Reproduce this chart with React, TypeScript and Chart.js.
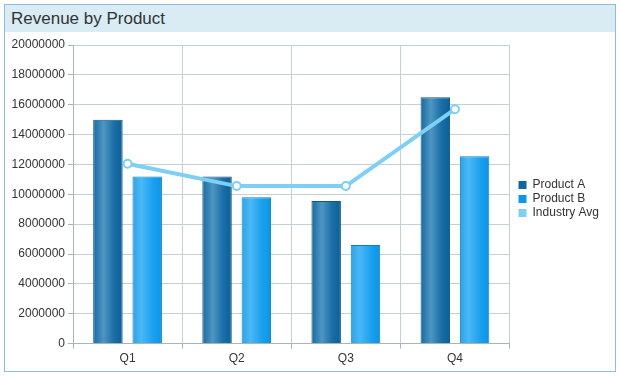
import React, { useEffect, useRef } from "react";
import { Chart, registerables } from "chart.js";

Chart.register(...registerables);

const categories = ["Q1", "Q2", "Q3", "Q4"];
const productA = [15000000, 11200000, 9550000, 16500000];
const productB = [11200000, 9800000, 6600000, 12550000];
const industryAvg = [12050000, 10550000, 10550000, 15700000];
const yTicks = [0, 2000000, 4000000, 6000000, 8000000, 10000000, 12000000, 14000000, 16000000, 18000000, 20000000];

const titleText = "Revenue by Product";

function gradientFor(stops: [number, string][], fallback: string) {
  return (ctx: any) => {
    const el = ctx.element;
    if (!el || typeof el.x !== "number" || !isFinite(el.x) || !el.width) return fallback;
    const c = ctx.chart.ctx as CanvasRenderingContext2D;
    const left = el.x - el.width / 2;
    const g = c.createLinearGradient(left, 0, left + el.width, 0);
    stops.forEach(([o, col]) => g.addColorStop(o, col));
    return g;
  };
}

const legendShift = {
  id: "legendShift",
  afterLayout(chart: any) {
    const lg = chart.legend;
    if (!lg) return;
    lg.left += 7;
    lg.right += 7;
    lg.top -= 8;
    lg.bottom -= 8;
  },
};

export default function App() {
  const ref = useRef<HTMLCanvasElement | null>(null);
  useEffect(() => {
    document.body.style.margin = "0";
    const canvas = ref.current!;
    const chart = new Chart(canvas, {
      type: "bar",
      plugins: [legendShift],
      data: {
        labels: categories,
        datasets: [
          {
            type: "line",
            label: "Industry Avg",
            data: industryAvg,
            borderColor: "#7ccff5",
            backgroundColor: "#7ccff5",
            borderWidth: 4,
            pointRadius: 4,
            pointBorderWidth: 2,
            pointBackgroundColor: "#ffffff",
            pointBorderColor: "#7ccff5",
            tension: 0,
            order: 0,
          } as any,
          {
            label: "Product A",
            data: productA,
            backgroundColor: gradientFor(
              [
                [0, "#156aa3"],
                [0.35, "#4f96c1"],
                [0.7, "#1a6fa6"],
                [1, "#0c5f98"],
              ],
              "#0d66a0"
            ),
            borderColor: "#0a5888",
            borderWidth: 1,
            categoryPercentage: 0.72,
            barPercentage: 0.75,
            order: 1,
          },
          {
            label: "Product B",
            data: productB,
            backgroundColor: gradientFor(
              [
                [0, "#2aa2ea"],
                [0.3, "#4ab8f5"],
                [0.7, "#1aa0ee"],
                [1, "#0a94e8"],
              ],
              "#0c98ea"
            ),
            borderColor: "#0a80c8",
            borderWidth: 1,
            categoryPercentage: 0.72,
            barPercentage: 0.75,
            order: 2,
          },
        ],
      },
      options: {
        animation: false,
        responsive: false,
        maintainAspectRatio: false,
        layout: { padding: { top: 13, right: 13, bottom: 2, left: 0 } },
        plugins: {
          title: { display: false },
          tooltip: { enabled: false },
          legend: {
            position: "right",
            labels: {
              boxWidth: 8,
              boxHeight: 8,
              padding: 2,
              color: "#333333",
              font: { family: "Arial, 'Liberation Sans', sans-serif", size: 12 },
              generateLabels: (ch: any) =>
                ch.data.datasets
                  .map((ds: any, i: number) => ({
                    text: ds.label,
                    fillStyle: ["#7ccff5", "#0d66a0", "#0c98ea"][i],
                    strokeStyle: ["#7ccff5", "#0d66a0", "#0c98ea"][i],
                    lineWidth: 0,
                    datasetIndex: i,
                    hidden: false,
                    fontColor: "#333333",
                  }))
                  .sort((a: any, b: any) => {
                    const order = ["Product A", "Product B", "Industry Avg"];
                    return order.indexOf(a.text) - order.indexOf(b.text);
                  }),
            },
          },
        },
        scales: {
          x: {
            grid: { color: "#c4d0d8", tickLength: 5, offset: true, drawTicks: true, tickColor: "#a8b4bc" },
            border: { color: "#a8b4bc" },
            ticks: { color: "#333333", font: { family: "Arial, 'Liberation Sans', sans-serif", size: 12 }, padding: 3 },
          },
          y: {
            min: 0,
            max: 20000000,
            afterBuildTicks: (s: any) => {
              s.ticks = yTicks.map((v) => ({ value: v }));
            },
            afterFit: (s: any) => {
              s.width = 68;
            },
            grid: { color: "#c4d0d8", tickLength: 5, tickColor: "#a8b4bc" },
            border: { color: "#a8b4bc" },
            ticks: {
              color: "#333333",
              font: { family: "Arial, 'Liberation Sans', sans-serif", size: 12 },
              padding: 3,
              callback: (v: any) => String(v),
            },
          },
        },
      } as any,
    });
    chart.update();
    return () => chart.destroy();
  }, []);

  return (
    <div
      style={{
        position: "absolute",
        left: 4,
        top: 4,
        width: 610,
        height: 366,
        border: "1px solid #8fbfd2",
        background: "#ffffff",
        fontFamily: "Arial, 'Liberation Sans', sans-serif",
      }}
    >
      <div
        style={{
          height: 27,
          background: "#d9ecf4",
          color: "#333333",
          fontSize: 17,
          lineHeight: "27px",
          paddingLeft: 6,
          boxSizing: "border-box",
        }}
      >
        {titleText}
      </div>
      <canvas ref={ref} width={610} height={339} style={{ display: "block" }} />
    </div>
  );
}
